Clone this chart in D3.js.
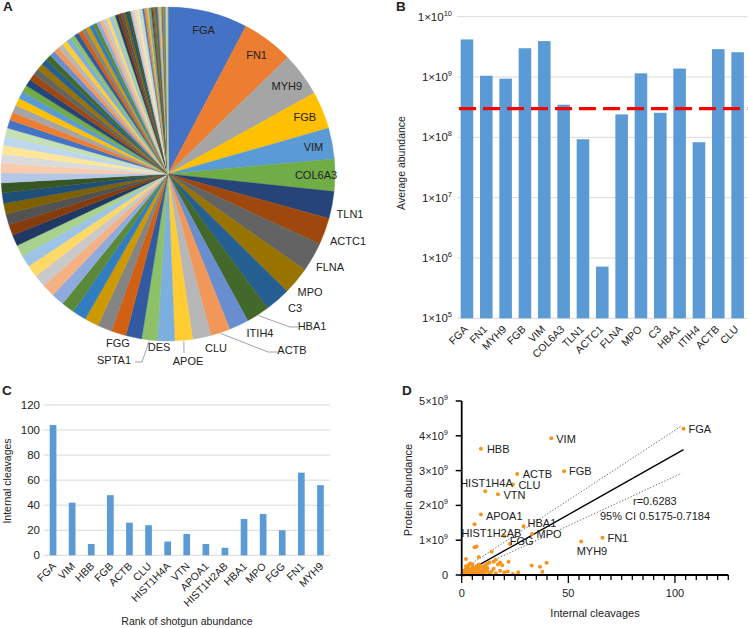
<!DOCTYPE html>
<html><head><meta charset="utf-8">
<script src="https://cdn.jsdelivr.net/npm/d3@7"></script>
<style>
body{margin:0;background:#fff}
text{font-family:"Liberation Sans",Arial,Helvetica,sans-serif;fill:#222}
</style>
</head><body>
<svg id="c" width="748" height="628" xmlns="http://www.w3.org/2000/svg"></svg>
<script>
// ================= DATA =================
// Panel A: pie of shotgun abundance (named top proteins, then unnamed remainder)
const pieNames = ["FGA","FN1","MYH9","FGB","VIM","COL6A3","TLN1","ACTC1","FLNA","MPO","C3","HBA1","ITIH4","ACTB","CLU","APOE","DES","SPTA1","FGG"];
const pieValues = [27.8,17.9,15.3,13.0,10.8,11.2,9.4,9.3,10.3,9.5,8.8,8.1,6.8,6.8,6.4,6.2,6.0,5.4,5.5];
const pieOtherValues = [5.2,5.0,4.9,4.8,4.6,4.5,4.4,4.3,4.2,4.1,4.0,3.9,3.8,3.8,
  3.7,3.6,3.5,3.4,3.3,3.2,3.1,3.0,3.0,2.9,2.8,2.7,
  2.6,2.5,2.5,2.4,2.3,2.2,2.2,2.1,2.0,2.0,1.9,1.8,1.8,
  1.7,1.6,1.6,1.5,1.5,1.4,1.4,1.3,1.3,1.2,1.2,1.1,1.1,1.0,1.0,
  0.95,0.9,0.9,0.85,0.8,0.8,0.75,0.7,0.7,0.65,0.6,0.6,0.55,0.5,0.5,0.45,0.45,0.4,0.4,0.35,
  0.35,0.3,0.3,0.3,0.3,0.25,0.25,0.25,0.2,0.2,0.2,0.2,0.2,0.2,0.2,0.2,0.15,0.15,0.15,0.15,0.1];
const pieInsideLabels = ["FGA","FN1","MYH9","FGB","VIM","COL6A3"];

// Panel B: average abundance (log)
const barBNames = ["FGA","FN1","MYH9","FGB","VIM","COL6A3","TLN1","ACTC1","FLNA","MPO","C3","HBA1","ITIH4","ACTB","CLU"];
const barBValues = [4.2e9,1.05e9,9.4e8,3.0e9,3.94e9,3.47e8,9.3e7,7.2e5,2.4e8,1.15e9,2.55e8,1.38e9,8.3e7,2.9e9,2.58e9];
const barBTickExps = [5,6,7,8,9,10];
const barBThreshold = 3e8;

// Panel C: internal cleavages
const barCNames = ["FGA","VIM","HBB","FGB","ACTB","CLU","HIST1H4A","VTN","APOA1","HIST1H2AB","HBA1","MPO","FGG","FN1","MYH9"];
const barCValues = [104,42,9,48,26,24,11,17,9,6,29,33,20,66,56];
const barCTicks = [0,20,40,60,80,100,120];

// Panel D: scatter (internal cleavages vs protein abundance, x1e9)
const scatterNames = ["FGA","VIM","HBB","FGB","ACTB","CLU","HIST1H4A","VTN","APOA1","HBA1","HIST1H2AB","MPO","FGG","FN1","MYH9"];
const scatterX = [104,42,9,48,26,24,11,17,9,29,6,33,20,66,56];
const scatterY = [4.20,3.93,3.63,2.98,2.90,2.60,2.41,2.32,1.74,1.40,1.46,1.18,1.12,1.07,0.96];
const scatterOther = [[6,0.80],[7,0.82],[2,0.46],[8,0.52],[14,0.67],[22.6,0.89],[12,0.32],[13,0.36],[15,0.38],[16,0.44],
  [17,0.30],[18,0.36],[19,0.28],[21.6,0.10],[22,0.38],[26.5,0.08],[32.8,0.27],[36.7,0.24],[39.8,0.35],[37.8,0.09],
  [10,0.22],[11,0.18],[9,0.26],[5,0.30],[4,0.33],[3,0.12],[1,0.05],[2,0.08],[3,0.04],[4,0.15],[5,0.10],[6,0.18],
  [7,0.12],[8,0.06],[9,0.14],[10,0.05],[11,0.08],[12,0.12],[13,0.04],[14,0.10],[1,0.12],[2,0.02],[3,0.20],[4,0.06],
  [5,0.02],[6,0.04],[7,0.25],[8,0.18],[9,0.03],[10,0.12],[3,0.28],[5,0.22],[7,0.05],[2,0.16],[4,0.01],[6,0.10],
  [8,0.30],[1,0.01],[0.5,0.02],[2,0.25],[3,0.07],[15,0.18],[18,0.12],[20,0.08],[24,0.03],[16,0.05],[12,0.20],[11,0.28]];
const fitLine = [[0.7,0.03],[104,3.60]];
const ciUpper = [[0,0.14],[103,4.28]];
const ciLower = [[0,0.0],[103,2.92]];
const scatterYTicks = [0,1,2,3,4,5];
const scatterXTicksMajor = [0,50,100];
const statR = "r=0.6283";
const statCI = "95% CI 0.5175-0.7184";

// ================= STYLE / LAYOUT =================
const excelPalette = [
 "#4472C4","#ED7D31","#A5A5A5","#FFC000","#5B9BD5","#70AD47",
 "#264478","#9E480E","#636363","#997300","#255E91","#43682B",
 "#698ED0","#F1975A","#B7B7B7","#FFCD33","#7CAFDD","#8CC168",
 "#335AA1","#D26012","#848484","#CC9A00","#327DC2","#5A8A39",
 "#8FAADC","#F4B183","#C9C9C9","#FFD966","#9DC3E6","#A9D18E",
 "#203864","#843C0C","#525252","#7F6000","#1F4E79","#375623",
 "#B4C7E7","#F8CBAD","#DBDBDB","#FFE699","#BDD7EE","#C5E0B4"];
const barBlue = "#5B9BD5";
const gridGray = "#D9D9D9";
const dotOrange = "#F7941D";

// outside pie label offsets (relative to pie centre), and leader elbows
const pieLabelPos = {TLN1:[182,40],ACTC1:[180,67],FLNA:[162,93],MPO:[142,118],C3:[127,134],
  HBA1:[144,152],ITIH4:[92,159],ACTB:[124,176],CLU:[48,174],APOE:[20,187],DES:[-9,173],SPTA1:[-54,186],FGG:[-50,169]};
const pieLeaders = {HBA1:[[122,153],[130,153]],ACTB:[[100,178],[109,178]],APOE:[[16,179]],SPTA1:[[-26,188],[-33,188]]};

// scatter label offsets (px) relative to point
const scatterLabelOff = {FGA:[5,4],VIM:[5,4.5],HBB:[6,4.5],FGB:[5,4],ACTB:[5.5,4],CLU:[5.5,4.5],HIST1H4A:[-25,-4.5],
  VTN:[5.5,4.5],APOA1:[5,5.5],HBA1:[4,0.5],HIST1H2AB:[-13,13],MPO:[4.5,4.5],FGG:[5.5,9],FN1:[5,4],MYH9:[-4.5,13.5]};

const svg = d3.select("#c");

// panel letters
[["A",3,11],["B",396,11],["C",2,395],["D",402,395]].forEach(([t,x,y])=>{
  svg.append("text").attr("x",x).attr("y",y).attr("font-size",13.5).attr("font-weight","bold").attr("fill","#000").text(t);
});

// ================= PANEL A =================
(function(){
  const cx=168, cy=174, R=167;
  const g = svg.append("g").attr("transform",`translate(${cx},${cy})`);
  const vals = pieValues.concat(pieOtherValues);
  const arcs = d3.pie().sort(null).value(d=>d)(vals);
  const arc = d3.arc().innerRadius(0).outerRadius(R);
  g.selectAll("path").data(arcs).join("path")
    .attr("d",arc)
    .attr("fill",(d,i)=>excelPalette[i%excelPalette.length])
    .attr("stroke",(d,i)=>excelPalette[i%excelPalette.length])
    .attr("stroke-width",0.4);
  const inArc = d3.arc().innerRadius(148).outerRadius(148);
  pieInsideLabels.forEach(n=>{
    const i = pieNames.indexOf(n);
    const c = inArc.centroid(arcs[i]);
    g.append("text").attr("x",c[0]).attr("y",c[1]).attr("dy","0.35em")
      .attr("text-anchor","middle").attr("font-size",11).attr("fill","#1a1a1a").text(n);
  });
  const edgeArc = d3.arc().innerRadius(R+1).outerRadius(R+1);
  Object.keys(pieLeaders).forEach(n=>{
    const i = pieNames.indexOf(n);
    const s = edgeArc.centroid(arcs[i]);
    const pts = [s].concat(pieLeaders[n]);
    g.append("path").attr("d",d3.line()(pts)).attr("fill","none").attr("stroke","#8c8c8c").attr("stroke-width",0.8);
  });
  Object.keys(pieLabelPos).forEach(n=>{
    const p = pieLabelPos[n];
    g.append("text").attr("x",p[0]).attr("y",p[1]).attr("dy","0.35em")
      .attr("text-anchor","middle").attr("font-size",11).attr("fill","#1a1a1a").text(n);
  });
})();

// ================= PANEL B =================
(function(){
  const x0=457.3, x1=747.3;
  const y = d3.scaleLog().domain([1e5,1e10]).range([318.3,16.7]);
  const x = d3.scaleBand().domain(barBNames).range([x0,x1]).paddingInner(0.35).paddingOuter(0.175);
  const g = svg.append("g");
  barBTickExps.forEach(e=>{
    const yy = y(Math.pow(10,e));
    g.append("line").attr("x1",x0).attr("x2",x1).attr("y1",yy).attr("y2",yy).attr("stroke",gridGray).attr("stroke-width",1);
    const t = g.append("text").attr("x",452).attr("y",yy+4).attr("text-anchor","end").attr("font-size",11.5).attr("fill","#333");
    t.append("tspan").text("1×10");
    t.append("tspan").attr("dy",-5).attr("font-size",7.5).text(e);
  });
  g.selectAll("rect").data(barBValues).join("rect")
    .attr("x",(d,i)=>x(barBNames[i])).attr("width",x.bandwidth())
    .attr("y",d=>y(d)).attr("height",d=>y(1e5)-y(d)).attr("fill",barBlue);
  const ty = y(barBThreshold);
  g.append("line").attr("x1",459).attr("x2",x1).attr("y1",ty).attr("y2",ty)
    .attr("stroke","#FF0000").attr("stroke-width",3.2).attr("stroke-dasharray","17,7");
  barBNames.forEach(n=>{
    const cx = x(n)+x.bandwidth()/2;
    g.append("text").attr("transform",`translate(${cx-1},${y(1e5)+9}) rotate(-45)`)
      .attr("text-anchor","end").attr("dy","0.35em").attr("font-size",10.5).attr("fill","#333").text(n);
  });
  g.append("text").attr("transform","translate(401,163) rotate(-90)").attr("text-anchor","middle")
    .attr("dy","0.35em").attr("font-size",10.5).attr("fill","#333").text("Average abundance");
})();

// ================= PANEL C =================
(function(){
  const x0=43.5, x1=330;
  const y = d3.scaleLinear().domain([0,120]).range([555.3,405]);
  const x = d3.scaleBand().domain(barCNames).range([x0,x1]).paddingInner(0.65).paddingOuter(0.325);
  const g = svg.append("g");
  barCTicks.forEach(v=>{
    const yy=y(v);
    g.append("line").attr("x1",x0).attr("x2",x1).attr("y1",yy).attr("y2",yy).attr("stroke",gridGray).attr("stroke-width",1);
    g.append("text").attr("x",40).attr("y",yy).attr("dy","0.35em").attr("text-anchor","end").attr("font-size",11.5).attr("fill","#333").text(v);
  });
  g.selectAll("rect").data(barCValues).join("rect")
    .attr("x",(d,i)=>x(barCNames[i])).attr("width",x.bandwidth())
    .attr("y",d=>y(d)).attr("height",d=>y(0)-y(d)).attr("fill",barBlue);
  barCNames.forEach(n=>{
    const cx = x(n)+x.bandwidth()/2;
    g.append("text").attr("transform",`translate(${cx+1},${y(0)+9}) rotate(-45)`)
      .attr("text-anchor","end").attr("dy","0.35em").attr("font-size",10.5).attr("fill","#333").text(n);
  });
  g.append("text").attr("transform","translate(7.5,481) rotate(-90)").attr("text-anchor","middle")
    .attr("dy","0.35em").attr("font-size",10.5).attr("fill","#333").text("Internal cleavages");
  g.append("text").attr("x",187).attr("y",625).attr("text-anchor","middle")
    .attr("font-size",10.5).attr("fill","#333").text("Rank of shotgun abundance");
})();

// ================= PANEL D =================
(function(){
  const x = d3.scaleLinear().domain([0,125]).range([461.7,728.3]);
  const y = d3.scaleLinear().domain([0,5]).range([575,401]);
  const g = svg.append("g");
  const ln = d3.line().x(d=>x(d[0])).y(d=>y(d[1]));
  g.append("path").attr("d",ln(ciUpper)).attr("fill","none").attr("stroke","#555").attr("stroke-width",0.9).attr("stroke-dasharray","1.3,1.8");
  g.append("path").attr("d",ln(ciLower)).attr("fill","none").attr("stroke","#555").attr("stroke-width",0.9).attr("stroke-dasharray","1.3,1.8");
  g.append("path").attr("d",ln(fitLine)).attr("fill","none").attr("stroke","#000").attr("stroke-width",1.4);
  g.selectAll("circle.o").data(scatterOther).join("circle").attr("class","o")
    .attr("cx",d=>x(d[0])).attr("cy",d=>y(d[1])).attr("r",2).attr("fill",dotOrange);
  scatterNames.forEach((n,i)=>{
    const px=x(scatterX[i]), py=y(scatterY[i]);
    g.append("circle").attr("cx",px).attr("cy",py).attr("r",2).attr("fill",dotOrange);
  });
  scatterNames.forEach((n,i)=>{
    const px=x(scatterX[i]), py=y(scatterY[i]);
    const o = scatterLabelOff[n];
    g.append("text").attr("x",px+o[0]).attr("y",py+o[1]).attr("font-size",11).attr("fill","#1a1a1a").text(n);
  });
  g.append("line").attr("x1",x(0)).attr("x2",x(0)).attr("y1",y(5)).attr("y2",y(0)+1).attr("stroke","#000").attr("stroke-width",1.8);
  g.append("line").attr("x1",x(0)-1).attr("x2",x(125)).attr("y1",y(0)).attr("y2",y(0)).attr("stroke","#000").attr("stroke-width",1.8);
  scatterYTicks.forEach(v=>{
    g.append("line").attr("x1",x(0)-6).attr("x2",x(0)).attr("y1",y(v)).attr("y2",y(v)).attr("stroke","#000").attr("stroke-width",1.5);
    const t = g.append("text").attr("x",448).attr("y",y(v)+4).attr("text-anchor","end").attr("font-size",11).attr("fill","#222");
    if(v===0){ t.text("0"); }
    else { t.append("tspan").text(v+"×10"); t.append("tspan").attr("dy",-5).attr("font-size",7.5).text("9"); }
  });
  d3.range(0,126,5).forEach(v=>{
    const major = scatterXTicksMajor.includes(v);
    g.append("line").attr("x1",x(v)).attr("x2",x(v)).attr("y1",y(0)).attr("y2",y(0)+(major?8:5))
      .attr("stroke","#000").attr("stroke-width",1.3);
  });
  scatterXTicksMajor.forEach(v=>{
    g.append("text").attr("x",x(v)).attr("y",597).attr("text-anchor","middle").attr("font-size",11).attr("fill","#222").text(v);
  });
  g.append("text").attr("x",595).attr("y",617).attr("text-anchor","middle").attr("font-size",11).attr("fill","#222").text("Internal cleavages");
  g.append("text").attr("transform","translate(408,490) rotate(-90)").attr("text-anchor","middle").attr("dy","0.35em")
    .attr("font-size",11).attr("fill","#222").text("Protein abundance");
  g.append("text").attr("x",633).attr("y",505).attr("font-size",11).attr("fill","#222").text(statR);
  g.append("text").attr("x",600).attr("y",520).attr("font-size",11).attr("fill","#222").text(statCI);
})();
</script>
</body></html>
